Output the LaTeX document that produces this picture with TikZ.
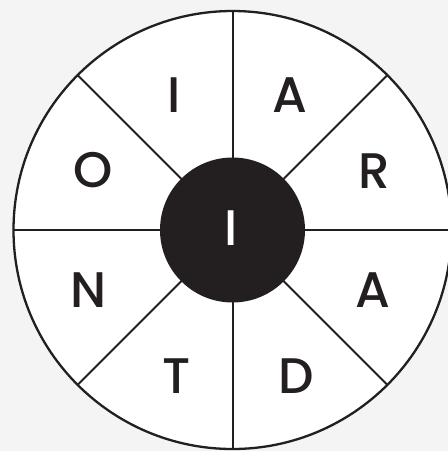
\documentclass[tikz,border=0pt]{standalone}
\usepackage{fontspec}
\usetikzlibrary{calc}
\setmainfont{Poppins}[UprightFont=* Medium]
\definecolor{bg}{HTML}{F4F4F4}
\definecolor{ink}{HTML}{231F20}
\begin{document}
\begin{tikzpicture}[x=1pt,y=-1pt,
  lbl/.style={anchor=base,inner sep=0pt,text=ink,font=\fontsize{50}{50}\selectfont},
  divider/.style={draw=ink,line width=2pt}]
\useasboundingbox (0,0) rectangle (448,451);
\fill[bg] (0,0) rectangle (448,451);
\begin{scope}
\clip (0,0) rectangle (448,451);
\coordinate (c) at (232.5,230);
\fill[white] (c) circle (219);
\foreach \a in {0,45,...,315}{
  \draw[divider] ($(c)+(\a:72)$) -- ($(c)+(\a:219)$);
}
\draw[divider,line width=2.3pt] (c) circle (219);
\fill[ink] (c) circle (72.5);
\end{scope}
\node[lbl] (l1) at (173.7,112) {I};
\node[lbl] (l2) at (290,112) {A};
\node[lbl] (l3) at (92.7,187.5) {O};
\node[lbl] (l4) at (374.7,188) {R};
\node[lbl] (l5) at (88.7,307) {N};
\node[lbl] (l6) at (373,307) {A};
\node[lbl] (l7) at (176.3,393) {T};
\node[lbl] (l8) at (296.3,393) {D};
\node[lbl,text=white] (mid) at (231.5,245.7) {I};
\end{tikzpicture}
\end{document}
